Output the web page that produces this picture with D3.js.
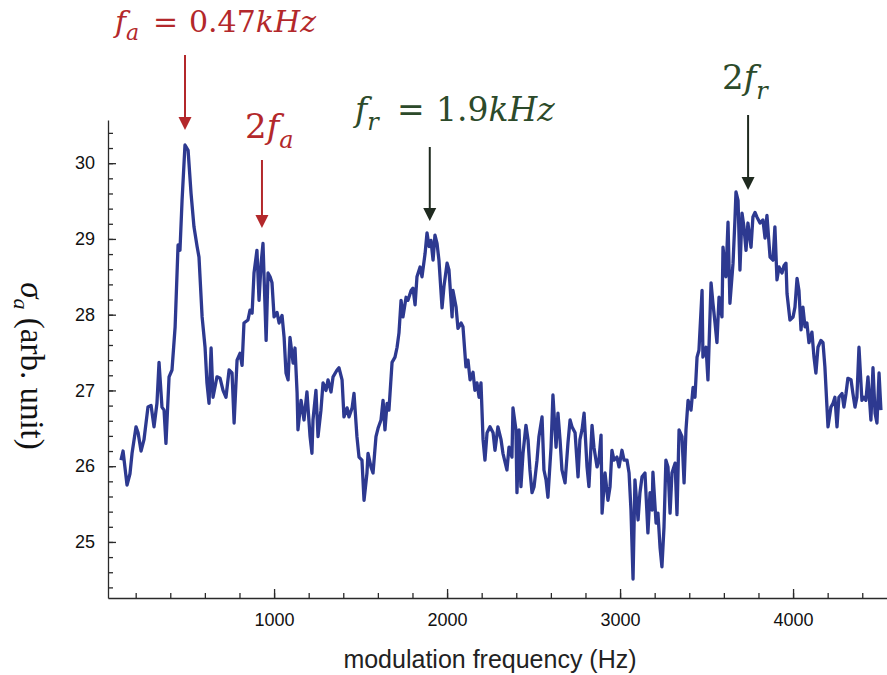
<!DOCTYPE html>
<html>
<head>
<meta charset="utf-8">
<script src="https://cdn.jsdelivr.net/npm/d3@7"></script>
<style>
  body { margin: 0; background: #fff; }
  svg { display: block; }
</style>
</head>
<body>
<script>
var width = 887,
    height = 675;

// modulation frequency (Hz)
var freq = [115,127,150,167,179,202,214,231,248,271,289,306,323,335,352,364,375,393,410,428,
  445,456,468,485,503,520,537,555,566,584,601,612,624,636,647,670,688,705,722,740,
  757,769,786,803,815,826,849,861,873,884,901,913,925,936,954,965,977,988,1000,1017,
  1029,1046,1058,1069,1081,1092,1110,1121,1133,1138,1156,1173,1190,1208,1219,1225,1242,1254,1271,1283,
  1300,1312,1329,1341,1364,1375,1393,1404,1422,1433,1451,1462,1479,1491,1508,1520,1537,1543,1560,1572,
  1589,1601,1618,1630,1641,1653,1664,1682,1699,1711,1722,1734,1745,1763,1774,1792,1803,1815,1826,1844,
  1855,1873,1884,1896,1907,1919,1930,1942,1953,1971,1982,2000,2011,2029,2034,2052,2063,2081,2092,2109,
  2121,2133,2150,2161,2173,2185,2196,2208,2219,2231,2248,2266,2277,2294,2312,2323,2346,2358,2375,2381,
  2398,2404,2416,2427,2439,2456,2468,2479,2491,2503,2520,2531,2549,2560,2572,2583,2601,2612,2630,2641,
  2653,2664,2682,2699,2711,2722,2740,2757,2768,2780,2792,2809,2820,2838,2849,2867,2878,2890,2896,2913,
  2930,2942,2953,2965,2982,2994,3011,3023,3040,3052,3063,3075,3086,3104,3115,3127,3144,3161,3173,3185,
  3190,3208,3219,3231,3242,3254,3265,3277,3289,3300,3318,3329,3341,3358,3370,3381,3393,3410,3422,3433,
  3445,3456,3474,3479,3497,3508,3526,3537,3549,3560,3572,3589,3595,3612,3624,3635,3653,3664,3670,3682,
  3693,3705,3716,3728,3739,3757,3768,3780,3791,3809,3826,3838,3849,3867,3884,3895,3907,3919,3936,3948,
  3959,3965,3982,4000,4011,4023,4034,4046,4057,4069,4080,4092,4109,4121,4132,4144,4161,4173,4184,4196,
  4202,4219,4231,4242,4254,4265,4283,4294,4306,4317,4335,4346,4358,4369,4381,4398,4410,4421,4433,4450,
  4462,4474,4485,4497,4508];

// sigma_a (arb. unit)
var sigma = [26.08,26.2,25.75,25.9,26.17,26.52,26.44,26.2,26.35,26.78,26.8,26.52,26.83,27.37,26.78,26.74,26.3,27.18,27.27,27.84,
  28.92,28.85,29.5,30.24,30.17,29.6,29.16,28.9,28.76,27.97,27.57,27.1,26.83,27.56,26.91,27.18,27.16,27.0,26.91,27.27,
  27.23,26.57,27.4,27.49,27.33,27.89,27.93,28.06,28.02,28.55,28.85,28.19,28.68,28.94,27.66,28.55,28.5,28.42,27.97,28.03,
  27.89,27.99,27.7,27.23,27.14,27.7,27.36,27.56,26.97,26.48,26.87,26.61,26.98,26.39,26.17,26.61,27.0,26.39,26.74,27.1,
  27.0,27.14,26.98,27.18,27.27,27.3,27.14,26.65,26.77,26.65,26.77,26.96,26.39,26.12,26.08,25.55,25.91,26.17,25.99,25.91,
  26.39,26.5,26.61,26.87,26.48,26.83,26.74,27.37,27.44,27.57,27.76,28.19,27.97,28.23,28.19,28.32,28.35,28.13,28.5,28.63,
  28.5,28.81,29.08,28.9,28.98,28.72,29.05,28.94,28.72,28.09,28.37,28.68,28.59,27.97,28.32,28.1,27.82,27.89,27.84,27.31,
  27.4,27.14,27.24,27.0,27.1,26.91,27.1,26.35,26.08,26.44,26.52,26.44,26.21,26.52,26.35,26.17,25.95,26.25,26.12,26.77,
  26.48,25.65,26.48,25.73,26.17,26.54,26.35,25.95,25.65,25.73,26.08,26.39,26.65,25.95,25.82,25.59,26.25,26.94,26.25,26.7,
  26.35,25.95,25.78,26.31,26.61,26.52,26.44,25.86,26.35,26.48,26.7,25.99,25.73,26.54,26.25,25.99,26.08,26.41,25.38,25.91,
  25.55,25.73,26.21,26.08,26.12,25.99,26.21,26.08,26.08,25.91,25.42,24.51,25.82,25.29,25.65,25.86,25.91,25.12,25.65,25.42,
  25.92,25.25,25.38,24.93,24.67,25.2,26.08,25.99,25.38,25.91,26.04,25.36,26.48,26.39,25.78,26.48,26.87,26.74,27.04,26.91,
  27.44,27.53,28.32,27.44,27.57,27.14,28.42,28.15,27.89,27.63,28.23,27.97,28.89,28.5,29.22,28.15,28.68,29.25,29.62,29.51,
  28.59,29.34,29.16,28.85,29.21,28.89,29.29,29.35,29.29,29.21,29.25,29.01,29.31,28.76,28.72,29.16,28.46,28.63,28.55,28.65,
  28.68,28.28,27.93,27.97,28.1,28.48,28.32,27.8,28.1,27.84,27.89,27.63,27.77,27.44,27.23,27.57,27.66,27.63,27.31,26.78,
  26.52,26.78,26.83,26.91,26.52,26.91,26.96,26.78,26.96,27.16,27.14,26.96,26.78,26.91,27.57,26.87,26.91,26.87,27.18,26.61,
  27.3,26.7,26.57,27.23,26.74];

var xTicks = [1000, 2000, 3000, 4000];
var yTicks = [25, 26, 27, 28, 29, 30];

// peaks pointed at by the arrows (Hz)
var peakFreq = [485, 930, 1900, 3740];

var data = freq.map(function(f, i) { return [f, sigma[i]]; });

var svg = d3.select("body").append("svg")
    .attr("width", width)
    .attr("height", height);

var x = d3.scaleLinear().domain([40, 4543]).range([108, 887]);
var y = d3.scaleLinear().domain([24.26, 30.57]).range([598, 120]);

var axisColor = "#2a2a2a";

// minor ticks first, then the labelled ones
svg.append("g")
    .attr("transform", "translate(0,598)")
    .call(d3.axisBottom(x).tickValues(d3.range(200, 4543, 200)).tickSize(-5).tickFormat(""))
    .call(function(g) { g.select(".domain").remove(); });

svg.append("g")
    .attr("transform", "translate(108,0)")
    .call(d3.axisLeft(y).tickValues(d3.range(24.4, 30.57, 0.2)).tickSize(-5).tickFormat(""))
    .call(function(g) { g.select(".domain").remove(); });

svg.append("g")
    .attr("transform", "translate(0,598)")
    .call(d3.axisBottom(x).tickValues(xTicks).tickSize(-9).tickPadding(15).tickSizeOuter(0).tickFormat(d3.format("d")));

svg.append("g")
    .attr("transform", "translate(108,0)")
    .call(d3.axisLeft(y).tickValues(yTicks).tickSize(-8).tickPadding(13).tickSizeOuter(0).tickFormat(d3.format("d")));

svg.selectAll(".tick line").attr("stroke", axisColor).attr("stroke-width", 1.3);
svg.selectAll(".domain").attr("stroke", axisColor).attr("stroke-width", 1.3);
svg.selectAll(".tick text")
    .attr("fill", "#111")
    .style("font-family", "'Liberation Sans', Arial, sans-serif")
    .style("font-size", "18px");

// trace
svg.append("path")
    .datum(data)
    .attr("fill", "none")
    .attr("stroke", "#2d3990")
    .attr("stroke-width", 3.3)
    .attr("stroke-linejoin", "round")
    .attr("d", d3.line().x(function(d) { return x(d[0]); }).y(function(d) { return y(d[1]); }));

// axis titles
svg.append("text")
    .attr("x", 490).attr("y", 668)
    .attr("text-anchor", "middle")
    .style("font-family", "'Liberation Sans', Arial, sans-serif")
    .style("font-size", "25px")
    .attr("fill", "#222")
    .text("modulation frequency (Hz)");

var ylab = svg.append("text")
    .attr("transform", "translate(21,366) rotate(90)")
    .attr("text-anchor", "middle")
    .style("font-family", "'Liberation Serif', 'Times New Roman', serif")
    .style("font-size", "33px")
    .attr("fill", "#111");
ylab.append("tspan").style("font-style", "italic").text("σ");
ylab.append("tspan").style("font-style", "italic").style("font-size", "22px").attr("dy", 7).text("a");
ylab.append("tspan").attr("dy", -7).text(" (arb. unit)");

// math-like labels: parts are [text, italic, subscript, x]
function mathLabel(px, py, size, color, parts) {
  var t = svg.append("text")
      .attr("x", px).attr("y", py)
      .attr("fill", color)
      .style("font-family", "'DejaVu Serif', serif")
      .style("font-size", size + "px");
  var down = 0;
  parts.forEach(function(p) {
    var shift = p[2] ? Math.round(size * 0.28) : 0;
    var s = t.append("tspan")
      .attr("dy", shift - down)
      .style("font-style", p[1] ? "italic" : "normal")
      .style("font-size", p[2] ? Math.round(size * 0.72) + "px" : null)
      .text(p[0]);
    if (p[3] != null) s.attr("x", p[3]);
    down = shift;
  });
  return t;
}

var red = "#b3282b",
    green = "#2c4a2a",
    dark = "#1f2a1f";

mathLabel(115, 32, 30, red, [["f", true], ["a", true, true], ["=", false, false, 153], ["0.47", false, false, 189], ["kHz", true]]);
mathLabel(245, 138, 34, red, [["2", false], ["f", true], ["a", true, true]]);
mathLabel(355, 121, 33, green, [["f", true], ["r", true, true], ["=", false, false, 397], ["1.9", false, false, 436], ["kHz", true]]);
mathLabel(722, 89, 34, green, [["2", false], ["f", true], ["r", true, true]]);

function arrow(f, y0, y1, color) {
  var ax = x(f);
  svg.append("line")
    .attr("x1", ax).attr("x2", ax)
    .attr("y1", y0).attr("y2", y1 - 10)
    .attr("stroke", color).attr("stroke-width", 2);
  svg.append("path")
    .attr("d", "M" + (ax - 6.5) + "," + (y1 - 13) + "L" + (ax + 6.5) + "," + (y1 - 13) + "L" + ax + "," + y1 + "Z")
    .attr("fill", color);
}

arrow(peakFreq[0], 55, 130, red);
arrow(peakFreq[1], 160, 228, red);
arrow(peakFreq[2], 147, 221, dark);
arrow(peakFreq[3], 115, 190, dark);
</script>
</body>
</html>
